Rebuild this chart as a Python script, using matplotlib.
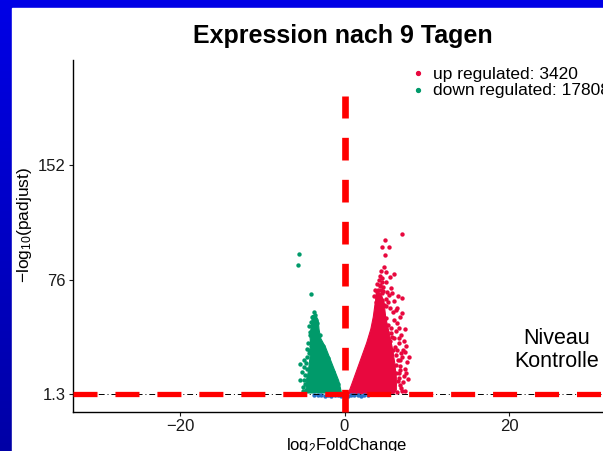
import numpy as np
import matplotlib
matplotlib.use('Agg')
import matplotlib.pyplot as plt
from matplotlib.lines import Line2D

plt.rcParams['font.family'] = ['Liberation Sans', 'DejaVu Sans']
plt.rcParams['mathtext.fontset'] = 'custom'
plt.rcParams['mathtext.rm'] = 'Liberation Sans'

# significant genes, individual points outside the dense cloud
up_x = [7.0, 4.9, 4.6, 5.35, 4.9, 4.4, 5.0, 6.0, 4.6, 4.0, 4.65, 4.4, 5.2, 5.8, 5.4, 4.0,
        7.0, 6.0, 3.8, 5.5, 6.2, 7.0, 6.0, 5.6, 6.0, 6.6, 7.4, 5.6, 6.2, 7.0, 7.6, 5.4,
        6.2, 6.8, 6.6, 4.2, 4.5, 3.9, 4.3, 4.1, 4.8, 4.0, 4.5, 3.9, 4.3, 4.55, 5.1, 5.0,
        5.3, 4.7, 5.1, 5.3, 5.6, 5.2, 5.8, 5.5, 6.1, 5.9, 6.5, 5.8, 6.3, 7.2, 6.0, 6.7,
        5.9, 7.0, 6.4, 6.6, 6.9, 7.2, 6.4, 6.8, 7.3, 6.4, 6.9, 7.5, 6.7, 7.3, 7.8, 6.5,
        7.1, 7.5, 6.9, 7.4, 6.6, 7.1, 6.4, 5.9, 6.5, 5.7, 5.0, 5.5, 4.3, 4.8, 3.9, 6.2,
        6.8, 5.9, 6.6, 7.7, 3.75, 3.6, 4.15, 4.35, 4.7]
up_y = [106.4, 102.4, 98.0, 98.0, 92.7, 82.2, 81.8, 80.0, 77.6, 74.0, 71.9, 69.7, 68.6, 67.5, 66.4, 66.4,
        64.3, 62.5, 62.0, 57.6, 56.5, 54.4, 50.0, 41.2, 37.9, 34.6, 29.1, 28.1, 27.0, 25.8, 22.5, 21.5,
        20.4, 17.1, 11.6, 60.0, 63.0, 58.0, 65.0, 70.0, 60.0, 64.5, 67.5, 68.5, 72.5, 75.0, 64.0, 59.0,
        62.0, 53.0, 51.0, 47.0, 45.0, 42.0, 39.0, 36.0, 32.0, 30.0, 24.0, 18.0, 15.0, 13.0, 8.0, 7.0,
        4.0, 3.5, 2.5, 45.0, 40.0, 36.0, 48.0, 52.0, 44.0, 30.0, 28.0, 33.0, 20.0, 18.0, 26.0, 10.0,
        9.0, 15.0, 5.0, 3.0, 38.0, 30.0, 58.0, 55.0, 66.0, 71.0, 75.0, 78.0, 79.0, 85.0, 64.0, 43.0,
        24.0, 12.0, 15.0, 11.0, 70.0, 66.0, 76.0, 73.0, 69.0]

down_x = [-5.5, -5.7, -4.1, -3.75, -3.6, -3.9, -4.1, -3.6, -4.3, -3.8, -4.2, -4.2, -3.5, -3.9, -4.4,
          -4.1, -4.3, -4.3, -4.6, -5.4, -5.15, -5.35, -4.95, -4.8, -4.9, -4.7, -5.0, -4.7, -4.8,
          -3.3, -3.0, -2.6, -2.0, -1.4, -0.8, -4.5, -4.6, -4.4, -5.1, -4.9]
down_y = [93.4, 86.4, 67.0, 55.0, 53.5, 52.0, 49.0, 48.0, 46.0, 44.0, 42.0, 40.0, 40.5, 37.0, 35.0,
          33.0, 30.0, 28.0, 26.0, 21.0, 16.0, 10.5, 10.5, 14.0, 19.0, 22.0, 6.0, 4.0, 8.0,
          48.0, 40.0, 33.0, 25.0, 16.0, 8.0, 31.0, 18.0, 12.0, 3.0, 24.0]

# outline of the dense part of each cloud
up_core_x = [0.45, 0.9, 1.5, 2.1, 2.7, 3.2, 3.5, 3.7, 3.9, 4.3, 4.8, 5.0, 5.4, 5.8, 6.1, 6.3, 6.3, 6.0]
up_core_y = [1.5, 8.0, 17.0, 26.0, 35.0, 44.0, 52.0, 60.0, 66.0, 68.0, 62.0, 52.0, 42.0, 32.0, 22.0, 12.0, 4.0, 1.5]
down_core_x = [-3.5, -3.2, -3.1, -2.9, -2.3, -1.5, -0.7, -0.36, -4.6, -4.7, -4.4, -4.2, -4.1, -4.2, -4.0, -3.9]
down_core_y = [53.0, 50.0, 44.0, 38.0, 32.0, 21.0, 10.0, 2.0, 2.0, 8.0, 16.0, 25.0, 32.0, 40.0, 47.0, 53.0]

# not significant
ns_x = [-3.7, -3.2, -2.8, -2.4, -2.0, -1.6, -1.2, -0.8, -0.4, 0.0, 0.4, 0.8, 1.2, 1.6, 2.0, 2.4, 2.8]
ns_y = [0.8, 0.4, 0.9, 0.2, 0.7, 0.3, 1.0, 0.5, 0.1, 0.6, 0.2, 0.9, 0.4, 0.8, 0.3, 0.7, 0.5]

n_up = 3420
n_down = 17808
cutoff = 1.3
y_ticks = [1.3, 76, 152]
x_ticks = [-20, 0, 20]

c_up = '#e8083e'
c_down = '#009a6a'
c_ns = '#2570c8'

fig = plt.figure(figsize=(6.03, 4.51), dpi=100)

# slide background: blue gradient with a white panel
bg = fig.add_axes([0, 0, 1, 1], zorder=-10)
grad = np.linspace(0, 1, 256).reshape(-1, 1)
bg.imshow(grad, aspect='auto', extent=[0, 1, 0, 1], origin='upper',
          cmap=matplotlib.colors.LinearSegmentedColormap.from_list('b', ['#0000e6', '#0000a6']))
bg.add_patch(plt.Rectangle((12 / 603, 0), 1, 1 - 8 / 451, color='white'))
bg.set_xlim(0, 1)
bg.set_ylim(0, 1)
bg.axis('off')

ax = fig.add_axes([73 / 603, 39 / 451, 543 / 603, 352 / 451])
ax.patch.set_alpha(0)

ax.fill(down_core_x, down_core_y, color=c_down, lw=0.8, zorder=2)
ax.fill(up_core_x, up_core_y, color=c_up, lw=0.8, zorder=2)
ax.scatter(ns_x, ns_y, s=10, color=c_ns, lw=0, zorder=2)
ax.scatter(down_x, down_y, s=10, color=c_down, lw=0, zorder=3)
ax.scatter(up_x, up_y, s=10, color=c_up, lw=0, zorder=3)

ax.axhline(cutoff, color='black', lw=0.7, ls=(0, (6, 3, 1, 3)), zorder=4)
ax.plot([-33, 33], [cutoff, cutoff], color='red', lw=3.8, dashes=(4.55, 3.4),
        solid_capstyle='butt', dash_capstyle='butt', zorder=5, clip_on=False)
ax.plot([0, 0], [-10.5, 197.5], color='red', lw=4.8, dashes=(3.4, 2.9),
        dash_capstyle='butt', zorder=5, clip_on=False)

ax.set_xlim(-33, 33)
ax.set_ylim(-10.5, 221)
ax.set_xticks(x_ticks)
ax.set_yticks(y_ticks)
ax.set_yticklabels([str(t) for t in y_ticks])
ax.tick_params(labelsize=12, length=3, width=0.8, colors='#1a1a1a', pad=2)
for s in ['top', 'right']:
    ax.spines[s].set_visible(False)
for s in ['left', 'bottom']:
    ax.spines[s].set_linewidth(1.0)

ax.set_xlabel(r'$\mathregular{log_2FoldChange}$', fontsize=12)
ax.xaxis.set_label_coords((347 - 73) / 543, -(436 - 412) / 352)
ax.set_ylabel(r'$\mathregular{-log_{10}(padjust)}$', fontsize=12.5)
ax.yaxis.set_label_coords(-(73 - 34) / 543, (412 - 225) / 352)
fig.text(343 / 603, 1 - 35.5 / 451, 'Expression nach 9 Tagen', fontsize=18, fontweight='bold',
         ha='center', va='center')

# legend keys and labels
for i, (lab, col) in enumerate([(f'up regulated: {n_up}', c_up),
                                (f'down regulated: {n_down}', c_down)]):
    yk = 1 - (73 + 17 * i) / 451
    fig.add_artist(Line2D([418 / 603], [yk], ls='', marker='o', ms=2.8, color=col,
                          transform=fig.transFigure))
    fig.text(433 / 603, 1 - (78.5 + 17 * i) / 451, lab, fontsize=12.5, va='baseline')

fig.text(557 / 603, 1 - 350 / 451, 'Niveau\nKontrolle', fontsize=15.5, ha='center',
         va='center', linespacing=1.1)

fig.savefig('out.png', dpi=100)
